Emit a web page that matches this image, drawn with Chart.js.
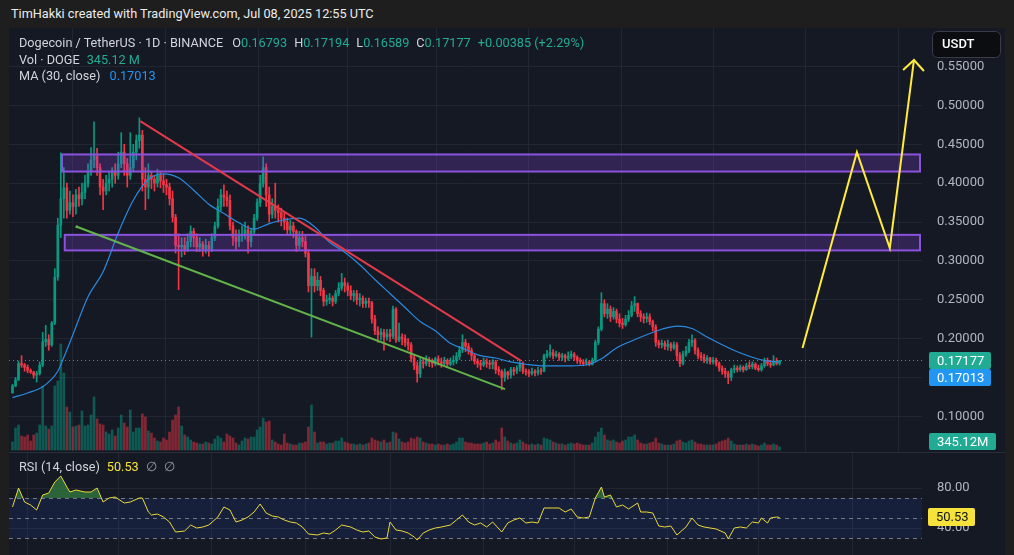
<!DOCTYPE html>
<html>
<head>
<meta charset="utf-8">
<script src="https://cdn.jsdelivr.net/npm/chart.js@4.4.1/dist/chart.umd.min.js"></script>
<style>
  body { margin:0; width:1014px; height:555px; background:#1e1e1e; overflow:hidden; position:relative;
         font-family: Roboto, "Noto Sans", sans-serif; }
  #credit { position:absolute; left:11px; top:6px; color:#ececec; font-size:12.7px; }
  #panel { position:absolute; left:9px; top:28px; width:996px; height:527px; background:#151924; }
  #panel canvas { position:absolute; left:0; }
  #main { top:0; }
  #sep { position:absolute; left:0; top:424px; width:996px; height:1px; background:#2a2e39; }
  #rsi { top:425px; }
  .leg { position:absolute; left:10px; font-size:12.7px; color:#d1d4dc; white-space:nowrap; line-height:16px; }
  .leg span { margin-left:7px; }
  .leg span.first { margin-left:9px; }
  .leg i { font-style:normal; }
  .g { color:#22ab94; }
  .b { color:#2196f3; }
  .y { color:#f5e33b; }
  .m { color:#9598a1; }
</style>
</head>
<body>
<div id="credit">TimHakki created with TradingView.com, Jul 08, 2025 12:55 UTC</div>
<div id="panel">
  <canvas id="main" width="996" height="424"></canvas>
  <div id="sep"></div>
  <canvas id="rsi" width="996" height="102"></canvas>
  <div class="leg" style="top:7px">Dogecoin / TetherUS · 1D · BINANCE<span class="first">O<i class="g">0.16793</i></span><span>H<i class="g">0.17194</i></span><span>L<i class="g">0.16589</i></span><span>C<i class="g">0.17177</i></span><span class="g">+0.00385 (+2.29%)</span></div>
  <div class="leg" style="top:24px">Vol · DOGE<span class="g">345.12 M</span></div>
  <div class="leg" style="top:40px">MA (30, close)<span class="b first">0.17013</span></div>
  <div class="leg" style="top:431px">RSI (14, close)<span class="y">50.53</span><span class="m">∅</span><span class="m">∅</span></div>
</div>
<script>
// ---- daily candles, index 0 = 27 Oct 2024 ----
const opens = [
  .130,.139,.147,.168,.166,.163,.159,.157,.153,.155, .166,.196,.199,.192,.220,.279,.346,.380,.394,.365,
  .375,.370,.385,.380,.388,.400,.415,.430,.435,.420, .395,.390,.400,.405,.415,.410,.425,.440,.425,.410,
  .420,.440,.455,.462,.405,.395,.410,.405,.400,.410, .403,.398,.395,.380,.356,.320,.318,.320,.315,.325,
  .338,.330,.318,.322,.315,.320,.315,.330,.345,.370, .385,.382,.378,.345,.330,.325,.332,.335,.340,.325,
  .338,.355,.375,.400,.420,.385,.360,.370,.365,.362, .355,.350,.340,.345,.338,.320,.330,.325,.310,.268,
  .280,.268,.275,.262,.248,.250,.252,.248,.258,.265, .272,.268,.262,.255,.258,.250,.252,.245,.248,.246,
  .225,.210,.205,.208,.202,.206,.203,.238,.198,.202, .200,.195,.192,.175,.165,.155,.170,.168,.172,.170,
  .168,.174,.170,.168,.172,.167,.170,.172,.177,.185, .195,.190,.185,.178,.171,.168,.166,.170,.168,.167,
  .170,.160,.158,.150,.157,.153,.160,.158,.162,.168, .158,.157,.155,.158,.156,.159,.158,.178,.180,.182,
  .178,.180,.176,.178,.175,.177,.180,.176,.172,.170, .168,.170,.167,.172,.195,.212,.245,.232,.238,.228,
  .235,.225,.220,.218,.225,.230,.242,.245,.232,.228, .226,.228,.222,.215,.195,.192,.194,.190,.193,.188,
  .192,.178,.168,.180,.184,.195,.198,.185,.178,.176, .172,.175,.170,.172,.168,.162,.158,.155,.150,.160,
  .162,.160,.163,.160,.165,.164,.167,.162,.160,.165, .172,.168,.166,.171,.16793
];
const highs = [
  .141,.150,.171,.178,.168,.166,.161,.158,.158,.170, .208,.217,.205,.222,.290,.355,.439,.420,.400,.390,
  .385,.392,.395,.400,.410,.425,.446,.479,.445,.425, .405,.410,.415,.420,.425,.440,.465,.450,.432,.465,
  .450,.462,.484,.468,.420,.425,.415,.410,.418,.415, .412,.405,.400,.390,.360,.335,.330,.330,.335,.345,
  .342,.335,.330,.325,.328,.325,.335,.350,.380,.392, .398,.390,.385,.350,.340,.340,.345,.350,.345,.342,
  .360,.380,.410,.434,.425,.395,.380,.400,.372,.368, .362,.355,.352,.350,.340,.338,.338,.332,.315,.290,
  .290,.285,.280,.265,.256,.258,.255,.262,.272,.284, .278,.272,.268,.262,.262,.258,.255,.252,.252,.248,
  .230,.215,.213,.212,.212,.212,.242,.240,.220,.206, .205,.200,.195,.178,.170,.175,.175,.178,.176,.174,
  .176,.178,.175,.176,.174,.175,.178,.182,.190,.205, .199,.194,.188,.180,.174,.172,.175,.174,.172,.173,
  .172,.164,.160,.161,.158,.163,.163,.165,.172,.170, .161,.160,.162,.160,.163,.162,.180,.185,.192,.186,
  .184,.182,.181,.180,.183,.184,.182,.178,.175,.173, .174,.172,.175,.198,.215,.259,.250,.245,.242,.240,
  .238,.232,.226,.230,.236,.248,.254,.246,.236,.232, .233,.232,.224,.218,.198,.198,.197,.198,.195,.196,
  .195,.182,.184,.190,.199,.205,.200,.188,.182,.180, .178,.176,.176,.175,.170,.165,.162,.158,.162,.166,
  .165,.166,.165,.168,.170,.170,.169,.166,.168,.175, .175,.172,.178,.175,.17194
];
const lows = [
  .130,.138,.146,.163,.158,.156,.155,.149,.144,.153, .164,.190,.185,.190,.218,.275,.330,.355,.355,.360,
  .357,.360,.370,.372,.380,.395,.410,.420,.410,.385, .366,.385,.390,.395,.400,.405,.420,.410,.395,.405,
  .415,.430,.445,.390,.366,.380,.393,.390,.395,.394, .388,.385,.372,.350,.310,.263,.305,.308,.312,.318,
  .318,.312,.312,.306,.310,.306,.312,.326,.342,.365, .370,.370,.340,.320,.315,.318,.325,.328,.310,.318,
  .335,.352,.370,.395,.370,.350,.355,.355,.350,.345, .340,.335,.335,.330,.312,.315,.318,.305,.260,.202,
  .260,.262,.255,.242,.243,.245,.242,.245,.255,.262, .260,.255,.250,.248,.244,.242,.240,.240,.240,.220,
  .205,.195,.198,.185,.198,.196,.200,.195,.196,.192, .190,.185,.170,.160,.144,.150,.162,.165,.164,.163,
  .165,.166,.163,.166,.163,.165,.166,.168,.173,.182, .183,.180,.172,.167,.163,.160,.164,.163,.161,.161,
  .155,.153,.134,.145,.148,.149,.153,.155,.158,.155, .153,.151,.153,.152,.153,.154,.157,.175,.176,.174,
  .176,.172,.172,.170,.172,.174,.172,.168,.167,.165, .166,.165,.166,.170,.192,.210,.228,.226,.222,.225,
  .220,.215,.213,.216,.222,.228,.235,.228,.222,.220, .221,.218,.210,.190,.188,.188,.186,.185,.184,.186,
  .172,.164,.166,.177,.182,.190,.180,.174,.172,.169, .168,.167,.167,.165,.158,.154,.150,.142,.146,.156,
  .157,.158,.157,.159,.161,.161,.160,.158,.158,.163, .165,.163,.165,.166,.16589
];
const closes = [
  .139,.147,.168,.166,.163,.159,.157,.153,.155,.166, .196,.199,.192,.220,.279,.346,.380,.394,.365,.375,
  .370,.385,.380,.388,.400,.415,.430,.435,.420,.395, .390,.400,.405,.415,.410,.425,.440,.425,.410,.420,
  .440,.455,.462,.405,.395,.410,.405,.400,.410,.403, .398,.395,.380,.356,.320,.318,.320,.315,.325,.338,
  .330,.318,.322,.315,.320,.315,.330,.345,.370,.385, .382,.378,.345,.330,.325,.332,.335,.340,.325,.338,
  .355,.375,.400,.420,.385,.360,.370,.365,.362,.355, .350,.340,.345,.338,.320,.330,.325,.310,.268,.280,
  .268,.275,.262,.248,.250,.252,.248,.258,.265,.272, .268,.262,.255,.258,.250,.252,.245,.248,.246,.225,
  .210,.205,.208,.202,.206,.203,.238,.198,.202,.200, .195,.192,.175,.165,.155,.170,.168,.172,.170,.168,
  .174,.170,.168,.172,.167,.170,.172,.177,.185,.195, .190,.185,.178,.171,.168,.166,.170,.168,.167,.170,
  .160,.158,.150,.157,.153,.160,.158,.162,.168,.158, .157,.155,.158,.156,.159,.158,.178,.180,.182,.178,
  .180,.176,.178,.175,.177,.180,.176,.172,.170,.168, .170,.167,.172,.195,.212,.245,.232,.238,.228,.235,
  .225,.220,.218,.225,.230,.242,.245,.232,.228,.226, .228,.222,.215,.195,.192,.194,.190,.193,.188,.192,
  .178,.168,.180,.184,.195,.198,.185,.178,.176,.172, .175,.170,.172,.168,.162,.158,.155,.150,.160,.162,
  .160,.163,.160,.165,.164,.167,.162,.160,.165,.172, .168,.166,.171,.16793,.17177
];
// volume, millions of DOGE
const volumes = [
  880,2420,2750,1540,1430,1650,990,1650,1870,2750, 7040,2640,2310,2640,7040,7590,11660,8470,4730,4180,
  2530,2640,2750,4290,2640,2750,3850,5830,3410,2860, 2750,1980,1760,2200,1540,2420,3850,2970,2530,4400,
  1980,2420,2420,3960,3630,2090,1870,1320,990,880, 1320,1100,1980,3300,3850,4730,2640,1650,1430,1100,
  880,770,660,660,880,770,660,1210,1540,1320, 880,1760,1540,1320,770,550,990,1320,1210,1430,
  1430,2200,2530,3520,3080,3190,1100,880,660,550, 1760,770,660,550,550,770,770,880,2530,4950,
  1980,770,880,880,660,770,770,990,990,1320, 880,770,660,660,550,660,550,660,770,1320,
  1100,990,880,1100,770,880,1980,1870,1210,880, 770,880,1320,1210,1430,1320,880,770,660,660,
  550,660,550,550,660,550,660,880,1320,1320, 880,770,770,660,660,660,770,880,660,770,
  1100,880,2420,1430,990,770,660,770,1100,880, 660,550,660,550,660,550,1320,1210,1100,880,
  770,660,660,550,660,770,660,770,660,550, 550,550,770,1430,1980,2420,1650,1100,990,1100,
  880,770,990,1100,1430,1430,1650,1100,770,660, 660,770,880,1320,770,660,550,550,550,660,
  990,1100,880,770,990,1100,880,660,660,550, 550,550,550,660,880,990,1100,1320,990,660,
  550,550,550,660,550,660,550,440,550,770, 550,550,660,550,345.12
];
// MA(30, close)
const maDays   = [0,5,10,15,17,20,25,30,35,40,45,50,55,60,65,70,75,80,85,90,95,100,105,110,115,120,125,130,135,140,
                  145,150,155,160,165,170,175,180,185,190,195,200,205,210,215,220,225,230,235,240,245,250,254];
const maValues = [0.124,0.130,0.138,0.158,0.176,0.205,0.254,0.286,0.336,0.378,0.405,0.412,0.407,0.391,0.373,0.361,0.349,
                  0.341,0.348,0.353,0.355,0.344,0.324,0.311,0.295,0.276,0.258,0.240,0.222,0.210,0.194,0.186,0.178,
                  0.175,0.170,0.167,0.165,0.165,0.165,0.166,0.174,0.188,0.197,0.205,0.212,0.216,0.213,0.202,0.192,
                  0.183,0.176,0.171,0.17013];
// RSI(14)
const rsiDays = [0,2,4,6,8,10,12,14,16,18,19,21,24,26,28,30,32,34,37,39,42,43,45,46,48,50,52,54,57,59,
                 61,63,65,68,70,72,74,76,78,80,82,84,86,88,90,92,94,96,98,101,103,105,107,109,112,114,116,118,120,122,
                 124,125,127,129,131,133,134,136,138,140,142,145,147,149,151,153,155,157,159,162,164,166,168,170,172,174,176,179,181,183,
                 185,187,189,191,193,195,196,198,200,202,204,207,208,210,212,214,216,218,220,223,225,227,229,231,233,236,237,239,241,243,
                 245,247,248,250,251,253,254];
const rsiValues = [61,80,66,63,58,73,75,86,92,81,76,78,76,76,80,66,70,71,65,66,70,70,56,53,54,51,46,36,37,43,
                   40,41,43,51,61,58,46,48,51,56,64,55,52,51,48,46,45,41,34,33,35,34,38,43,41,38,36,37,31,29,
                   30,46,38,37,35,31,28,35,38,40,41,43,48,53,46,43,45,41,46,36,45,48,50,45,46,45,60,60,60,56,
                   59,51,50,51,70,81,71,73,61,63,59,65,56,56,55,42,41,42,33,41,50,43,41,40,39,35,29,40,41,40,
                   46,45,50,45,50,51,50.53];
const monthStarts = [5,35,66,97,125,156,186,217,247,278];
const priceTicks = [0.10,0.15,0.20,0.25,0.30,0.35,0.40,0.45,0.50,0.55];
const rsiTicks = [40,80];
const rsiLevels = [70,50,30];

// drawings (day index, price)
const zoneFrom = [16.4, 17.3];
const zoneTo = [300.5, 300.5];
const zoneTop = [0.437, 0.3335];
const zoneBottom = [0.415, 0.3135];
const redLine = [[42.3, 0.480], [168.3, 0.1716]];
const greenLine = [[21.3, 0.344], [163.1, 0.135]];
const yellowPath = [[261.6, 0.188], [279.6, 0.440], [290.5, 0.3166], [298.5, 0.5586]];
const yellowHead = [[294.9, 0.5457], [298.5, 0.5586], [301.8, 0.5444]];

// ---- setup ----
const FONT = 'Roboto, "Noto Sans", sans-serif';
Chart.defaults.font.family = FONT;
Chart.defaults.animation = false;

const X_MIN = -1.16, X_MAX = 301.16;
const GRID = '#222633';
const UP = '#089981', DOWN = '#f23645';
const last = closes.length - 1;

const isUp = closes.map((c, i) => c >= opens[i]);
const candleCol = isUp.map(u => u ? UP : DOWN);
const volCol = isUp.map(u => u ? 'rgba(8,153,129,0.5)' : 'rgba(242,54,69,0.5)');
const pts = a => a.map(p => ({ x: p[0], y: p[1] }));

function xScale() {
    return {
        type: 'linear', min: X_MIN, max: X_MAX, offset: false,
        grid: { color: GRID, drawTicks: false }, border: { display: false },
        ticks: { display: false },
        afterBuildTicks: s => { s.ticks = monthStarts.map(v => ({ value: v })); },
        afterFit: s => { s.height = 0; s.paddingLeft = 0; s.paddingRight = 0; }
    };
}
function fitRight(s) { s.width = 83; s.paddingTop = 0; s.paddingBottom = 0; }

function tag(ctx, text, x, cy, w, h, bg, fg) {
    ctx.fillStyle = bg;
    ctx.beginPath();
    ctx.roundRect(x, Math.round(cy - h / 2), w, h, 2);
    ctx.fill();
    ctx.fillStyle = fg;
    ctx.font = '13px ' + FONT;
    ctx.textBaseline = 'middle';
    ctx.textAlign = 'left';
    ctx.fillText(text, x + 8, Math.round(cy) + 1);
}

const zonesPlugin = {
    id: 'zones',
    afterDatasetDraw(chart, args) {
        if (chart.data.datasets[args.index].id !== 'body') return;
        const { ctx, scales: { x, y } } = chart;
        ctx.save();
        zoneFrom.forEach((f, k) => {
            const x0 = x.getPixelForValue(f), x1 = x.getPixelForValue(zoneTo[k]);
            const y0 = y.getPixelForValue(zoneTop[k]), y1 = y.getPixelForValue(zoneBottom[k]);
            ctx.fillStyle = 'rgba(142,70,230,0.24)';
            ctx.fillRect(x0, y0, x1 - x0, y1 - y0);
            ctx.strokeStyle = '#8a52dd';
            ctx.lineWidth = 2;
            ctx.strokeRect(x0, y0, x1 - x0, y1 - y0);
        });
        ctx.restore();
    }
};

const mainLabels = {
    id: 'mainLabels',
    afterDraw(chart) {
        const { ctx, chartArea, scales: { y, yv } } = chart;
        const lx = chartArea.right + 7;
        ctx.save();
        const py = y.getPixelForValue(closes[last]);
        tag(ctx, closes[last].toFixed(5), lx, py, 62, 17, '#22ab94', '#ffffff');
        tag(ctx, maValues[maValues.length - 1].toFixed(5), lx, py + 17, 62, 17, '#2196f3', '#ffffff');
        const vy = Math.min(yv.getPixelForValue(volumes[last]), chartArea.bottom - 2 - 8.5);
        tag(ctx, volumes[last].toFixed(2) + 'M', lx, vy, 67, 17, '#22ab94', '#ffffff');
        // currency button
        ctx.fillStyle = '#0c0d10';
        ctx.strokeStyle = '#3a3d45';
        ctx.lineWidth = 1;
        ctx.beginPath();
        ctx.roundRect(chartArea.right + 10.5, 3.5, 68, 26, 5);
        ctx.fill();
        ctx.stroke();
        ctx.fillStyle = '#ffffff';
        ctx.font = '500 13px ' + FONT;
        ctx.textBaseline = 'middle';
        ctx.fillText('USDT', chartArea.right + 20, 17);
        ctx.restore();
    }
};

new Chart(document.getElementById('main'), {
    type: 'bar',
    data: {
        datasets: [
            { id: 'vol', type: 'bar', yAxisID: 'yv', order: 10, grouped: false, barThickness: 2,
              data: volumes.map((v, i) => ({ x: i, y: v })), backgroundColor: volCol },
            { id: 'wick', type: 'bar', yAxisID: 'y', order: 9, grouped: false, barThickness: 1,
              data: highs.map((h, i) => ({ x: i, y: [lows[i], h] })), backgroundColor: candleCol },
            { id: 'body', type: 'bar', yAxisID: 'y', order: 8, grouped: false, barThickness: 2, minBarLength: 1,
              data: closes.map((c, i) => ({ x: i, y: [opens[i], c] })), backgroundColor: candleCol },
            { id: 'ma', type: 'line', yAxisID: 'y', order: 5, data: maDays.map((d, i) => ({ x: d, y: maValues[i] })),
              borderColor: '#2a8ae0', borderWidth: 1.2, pointRadius: 0, cubicInterpolationMode: 'monotone' },
            { id: 'last', type: 'line', yAxisID: 'y', order: 6,
              data: [{ x: X_MIN, y: closes[last] }, { x: X_MAX, y: closes[last] }],
              borderColor: '#22ab94', borderWidth: 1, borderDash: [1, 3], pointRadius: 0 },
            { id: 'red', type: 'line', yAxisID: 'y', order: 3, data: pts(redLine),
              borderColor: '#e23a4a', borderWidth: 2, pointRadius: 0 },
            { id: 'green', type: 'line', yAxisID: 'y', order: 3, data: pts(greenLine),
              borderColor: '#62b44a', borderWidth: 2, pointRadius: [1.5, 0], pointBackgroundColor: '#62b44a', pointBorderWidth: 0 },
            { id: 'proj', type: 'line', yAxisID: 'y', order: 2, data: pts(yellowPath), clip: false,
              borderColor: '#ffeb3b', borderWidth: 2, pointRadius: 0, borderJoinStyle: 'miter' },
            { id: 'head', type: 'line', yAxisID: 'y', order: 2, data: pts(yellowHead), clip: false,
              borderColor: '#ffeb3b', borderWidth: 2, pointRadius: 0 }
        ]
    },
    options: {
        responsive: false,
        layout: { padding: 0, autoPadding: false },
        events: [],
        scales: {
            x: xScale(),
            y: {
                position: 'right', min: 42 / 777, max: 466 / 777,
                grid: { color: GRID, drawTicks: false }, border: { display: false },
                afterBuildTicks: s => { s.ticks = priceTicks.map(v => ({ value: v })); },
                ticks: { color: '#b2b5be', padding: 15, font: { size: 13 },
                         callback: v => Math.abs(v - 0.15) < 1e-6 ? '' : Number(v).toFixed(5) },
                afterFit: fitRight
            },
            yv: { display: false, min: -220, max: 46420 }
        },
        plugins: { legend: { display: false }, tooltip: { enabled: false } }
    },
    plugins: [zonesPlugin, mainLabels]
});

const rsiPlugin = {
    id: 'rsiBand',
    beforeDatasetsDraw(chart) {
        const { ctx, chartArea: { left, right }, scales: { y } } = chart;
        const yTop = y.getPixelForValue(rsiLevels[0]), yBot = y.getPixelForValue(rsiLevels[2]);
        ctx.save();
        ctx.fillStyle = 'rgba(41,98,255,0.10)';
        ctx.fillRect(left, yTop, right - left, yBot - yTop);
        ctx.setLineDash([4, 4]);
        ctx.strokeStyle = 'rgba(178,181,190,0.6)';
        ctx.lineWidth = 1;
        rsiLevels.forEach(v => {
            const yy = Math.round(y.getPixelForValue(v)) + 0.5;
            ctx.beginPath(); ctx.moveTo(left, yy); ctx.lineTo(right, yy); ctx.stroke();
        });
        ctx.restore();
    },
    afterDraw(chart) {
        const { ctx, chartArea, scales: { y } } = chart;
        const v = rsiValues[rsiValues.length - 1];
        ctx.save();
        tag(ctx, v.toFixed(2), chartArea.right + 6, y.getPixelForValue(v), 47, 18, '#f5e33b', '#131722');
        ctx.restore();
    }
};

const rsiPts = rsiDays.map((d, i) => ({ x: d, y: rsiValues[i] }));
new Chart(document.getElementById('rsi'), {
    type: 'line',
    data: {
        datasets: [
            { data: rsiPts, borderColor: '#ecd838', borderWidth: 1, pointRadius: 0,
              fill: { target: { value: 70 }, above: 'rgba(56,150,70,0.6)', below: 'rgba(0,0,0,0)' } },
            { data: rsiPts, borderWidth: 0, pointRadius: 0,
              fill: { target: { value: 30 }, above: 'rgba(0,0,0,0)', below: 'rgba(200,60,70,0.5)' } }
        ]
    },
    options: {
        responsive: false,
        layout: { padding: 0, autoPadding: false },
        events: [],
        scales: {
            x: xScale(),
            y: {
                position: 'right', min: 13, max: 115,
                grid: { color: GRID, drawTicks: false }, border: { display: false },
                afterBuildTicks: s => { s.ticks = rsiTicks.map(v => ({ value: v })); },
                ticks: { color: '#b2b5be', padding: 15, font: { size: 13 }, callback: v => Number(v).toFixed(2) },
                afterFit: fitRight
            }
        },
        plugins: { legend: { display: false }, tooltip: { enabled: false } }
    },
    plugins: [rsiPlugin]
});
</script>
</body>
</html>
